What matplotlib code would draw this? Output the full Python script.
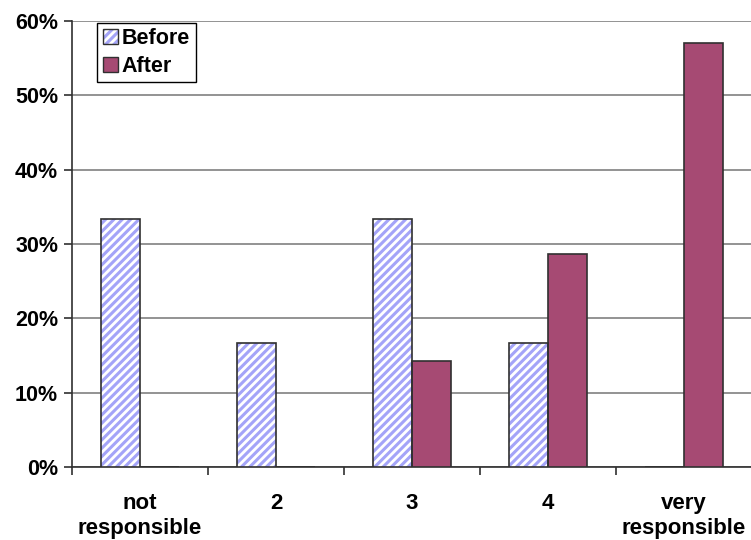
import numpy as np
import matplotlib
matplotlib.use('Agg')
from matplotlib import pyplot as plt
from matplotlib.patches import Patch
from matplotlib.legend_handler import HandlerTuple
from matplotlib.ticker import PercentFormatter

categories = ['not\nresponsible', '2', '3', '4', 'very\nresponsible']
before = [33.3, 16.7, 33.3, 16.7, 0.0]
after = [0.0, 0.0, 14.3, 28.6, 57.1]

stripe_blue = '#a4a4f8'
maroon = '#a64a73'
edge = '#303030'

plt.rcParams['font.family'] = ['Liberation Sans', 'DejaVu Sans']
plt.rcParams['font.weight'] = 'bold'
plt.rcParams['hatch.linewidth'] = 2.2

fig = plt.figure(figsize=(7.51, 5.40), dpi=100)
ax = fig.add_axes([0.0959, 0.1352, 0.9055, 0.826])

x = np.arange(len(categories))
w = 0.287

# hatched fill first, then a plain outline on top so the stripes stay blue
ax.bar(x - w / 2, before, w, facecolor='white', edgecolor=stripe_blue,
       hatch='////', linewidth=0, zorder=3)
ax.bar(x - w / 2, before, w, facecolor='none', edgecolor=edge,
       linewidth=1.2, zorder=4)
ax.bar(x + w / 2, after, w, facecolor=maroon, edgecolor=edge,
       linewidth=1.2, zorder=3)

ax.set_xlim(-0.5, 4.5)
ax.set_ylim(0, 60)
ax.yaxis.set_major_formatter(PercentFormatter(decimals=0))
ax.set_yticks(np.arange(0, 61, 10))
ax.grid(axis='y', color='#808080', linewidth=1.2, zorder=0)
ax.set_axisbelow(True)

ax.set_xticks(x)
ax.set_xticklabels(categories, linespacing=1.2)
ax.set_xticks(np.arange(-0.5, 4.6, 1), minor=True)
ax.tick_params(axis='x', which='major', length=0, pad=19, labelsize=16)
ax.tick_params(axis='x', which='minor', length=6, width=1.2, color=edge)
ax.tick_params(axis='y', length=6, width=1.2, color=edge, labelsize=15.5, pad=4)

for s in ['top', 'right']:
    ax.spines[s].set_visible(False)
for s in ['left', 'bottom']:
    ax.spines[s].set_color(edge)
    ax.spines[s].set_linewidth(1.2)

h_before = (Patch(facecolor='white', edgecolor=stripe_blue, hatch='////', linewidth=0),
            Patch(facecolor='none', edgecolor=edge, linewidth=1.0))
h_after = Patch(facecolor=maroon, edgecolor=edge, linewidth=1.0)
leg = ax.legend([h_before, h_after], ['Before', 'After'],
                handler_map={tuple: HandlerTuple(ndivide=1, pad=0)},
                loc='upper left', bbox_to_anchor=(0.037, 0.996), borderaxespad=0,
                fancybox=False, edgecolor='black', framealpha=1,
                handlelength=0.7, handleheight=0.7, handletextpad=0.2,
                labelspacing=0.3, borderpad=0.25, fontsize=15.5)
leg.get_frame().set_linewidth(1.0)

fig.savefig('out.png', dpi=100)
